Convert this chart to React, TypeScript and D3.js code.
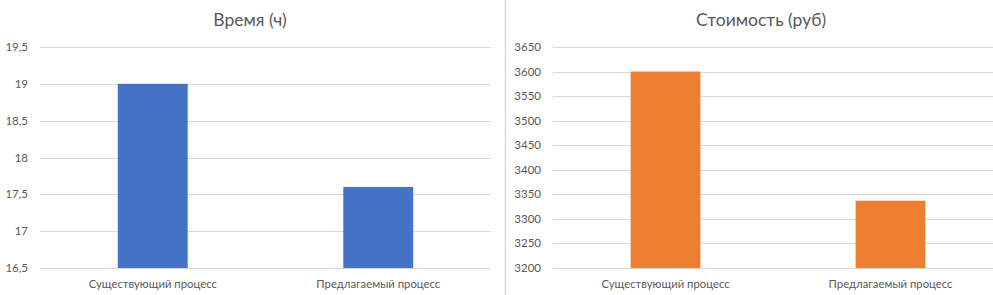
import React, { useRef, useEffect } from 'react'
import * as d3 from 'd3'

const categories = ['Существующий процесс', 'Предлагаемый процесс']
const timeValues = [19, 17.6]
const costValues = [3600, 3337]
const timeTicks = [16.5, 17, 17.5, 18, 18.5, 19, 19.5]
const costTicks = [3200, 3250, 3300, 3350, 3400, 3450, 3500, 3550, 3600, 3650]

const textColor = '#595959'
const gridColor = '#d9d9d9'
const font = 'Lato, "Noto Sans", sans-serif'

type Panel = {
	title: string
	values: number[]
	ticks: number[]
	color: string
	left: number // chart area left
	width: number // chart area width
	plotLeft: number
	plotRight: number
}

const panels: Panel[] = [
	{
		title: 'Время (ч)',
		values: timeValues,
		ticks: timeTicks,
		color: '#4472c4',
		left: 0,
		width: 500,
		plotLeft: 40,
		plotRight: 491,
	},
	{
		title: 'Стоимость (руб)',
		values: costValues,
		ticks: costTicks,
		color: '#ed7d31',
		left: 505,
		width: 512,
		plotLeft: 553,
		plotRight: 1003,
	},
]

const App = () => {
	const svgRef = useRef<SVGSVGElement | null>(null)

	const svgWidth = 993,
		svgHeight = 295
	const plotTop = 47,
		plotBottom = 268

	useEffect(() => {
		const svg = d3.select(svgRef.current)
		svg.selectAll('*').remove()

		svg
			.append('line')
			.attr('x1', 505.5)
			.attr('x2', 505.5)
			.attr('y1', 0)
			.attr('y2', svgHeight)
			.attr('stroke', gridColor)
			.attr('stroke-width', 1.5)

		panels.forEach((p) => {
			const g = svg.append('g')
			const y = d3
				.scaleLinear()
				.domain([d3.min(p.ticks)!, d3.max(p.ticks)!])
				.range([plotBottom, plotTop])
			const x = d3
				.scaleBand()
				.domain(categories)
				.range([p.plotLeft, p.plotRight])
				.paddingInner(0.69)
				.paddingOuter(0.345)

			g.append('text')
				.attr('x', p.left + p.width / 2)
				.attr('y', 26)
				.attr('text-anchor', 'middle')
				.attr('font-family', font)
				.attr('font-size', 17.5)
				.attr('fill', textColor)
				.text(p.title)

			g.selectAll('line.grid')
				.data(p.ticks)
				.enter()
				.append('line')
				.attr('class', 'grid')
				.attr('x1', p.plotLeft)
				.attr('x2', p.plotRight)
				.attr('y1', (d) => Math.round(y(d)) + 0.5)
				.attr('y2', (d) => Math.round(y(d)) + 0.5)
				.attr('stroke', gridColor)

			g.selectAll('text.tick')
				.data(p.ticks)
				.enter()
				.append('text')
				.attr('class', 'tick')
				.attr('x', p.plotLeft - 12)
				.attr('y', (d) => y(d))
				.attr('dy', '0.35em')
				.attr('text-anchor', 'end')
				.attr('font-family', font)
				.attr('font-size', 11.5)
				.attr('fill', textColor)
				.text((d) => String(d).replace('.', ','))

			g.selectAll('rect')
				.data(p.values)
				.enter()
				.append('rect')
				.attr('x', (d, i) => x(categories[i])!)
				.attr('width', x.bandwidth())
				.attr('y', (d) => y(d))
				.attr('height', (d) => plotBottom - y(d))
				.attr('fill', p.color)

			g.selectAll('text.cat')
				.data(categories)
				.enter()
				.append('text')
				.attr('class', 'cat')
				.attr('x', (d) => x(d)! + x.bandwidth() / 2)
				.attr('y', 288)
				.attr('text-anchor', 'middle')
				.attr('font-family', font)
				.attr('font-size', 11.3)
				.attr('fill', textColor)
				.text((d) => d)
		})
	}, [])

	return (
		<div style={{ position: 'absolute', left: 0, top: 0 }}>
			<svg ref={svgRef} width={svgWidth} height={svgHeight} style={{ display: 'block', background: '#fff' }}></svg>
		</div>
	)
}

export default App
